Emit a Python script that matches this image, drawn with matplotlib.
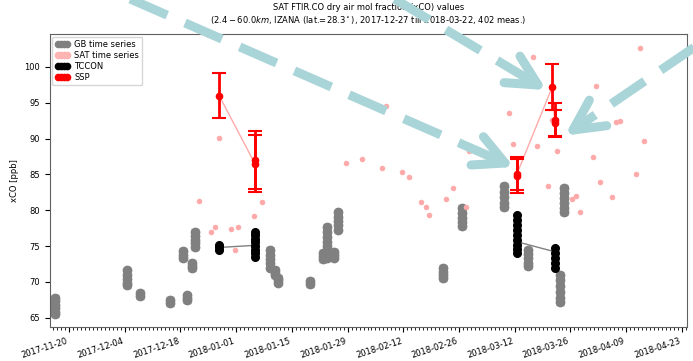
import numpy as np
import pandas as pd
import matplotlib
matplotlib.use("Agg")
import matplotlib.pyplot as plt
import matplotlib.dates as mdates
from matplotlib.lines import Line2D

plt.rcParams['font.family'] = ['DejaVu Sans']
plt.rcParams['font.size'] = 6
plt.rcParams['lines.scale_dashes'] = False

# GB time series (one date per cluster, several measurements each)
gb_dates = ["2017-11-16 12:00", "2017-12-04 14:00", "2017-12-07 19:00", "2017-12-15 10:00",
            "2017-12-18 14:00", "2017-12-19 14:00", "2017-12-20 22:00", "2017-12-21 17:00",
            "2018-01-09 12:00", "2018-01-10 19:00", "2018-01-11 12:00", "2018-01-19 14:00",
            "2018-01-22 19:00", "2018-01-23 19:00", "2018-01-25 12:00", "2018-01-26 14:00",
            "2018-02-22 00:00", "2018-02-26 17:00", "2018-03-09 07:00", "2018-03-15 07:00",
            "2018-03-23 10:00", "2018-03-24 10:00"]
gb_values = [[67.8, 67.3, 66.8, 66.3, 65.8, 65.5],
             [71.6, 71.0, 70.4, 69.9, 69.5],
             [68.4, 68.0],
             [67.5, 67.1],
             [74.3, 73.8, 73.3],
             [68.1, 67.7, 67.4],
             [72.6, 72.2, 71.9],
             [77.0, 76.4, 75.9, 75.4, 74.9],
             [74.5, 73.8, 73.2, 72.6, 72.0],
             [71.7, 71.3, 70.9],
             [70.6, 70.3, 69.9],
             [70.1, 69.7],
             [74.0, 73.6, 73.2],
             [77.7, 77.0, 76.3, 75.6, 75.0, 74.3, 73.8, 73.3],
             [74.2, 73.8, 73.4],
             [79.7, 79.1, 78.5, 77.9, 77.3],
             [71.9, 71.4, 70.9, 70.5],
             [80.3, 79.6, 78.9, 78.3, 77.8],
             [83.4, 82.6, 81.8, 81.0, 80.4],
             [74.5, 73.9, 73.3, 72.7, 72.2],
             [71.0, 70.2, 69.4, 68.6, 67.8, 67.2],
             [83.1, 82.4, 81.7, 81.0, 80.3, 79.8]]
gb_err = 0.4

# SAT time series
sat_dates = ["2017-12-22 17:00", "2017-12-25 17:00", "2017-12-26 17:00", "2017-12-27 17:00",
             "2017-12-30 17:00", "2017-12-31 17:00", "2018-01-01 12:00", "2018-01-05 12:00",
             "2018-01-07 12:00", "2018-01-28 14:00", "2018-02-01 14:00", "2018-02-06 14:00",
             "2018-02-07 14:00", "2018-02-11 17:00", "2018-02-13 10:00", "2018-02-16 10:00",
             "2018-02-17 17:00", "2018-02-18 12:00", "2018-02-22 17:00", "2018-02-24 12:00",
             "2018-02-27 17:00", "2018-02-28 12:00", "2018-03-10 14:00", "2018-03-11 14:00",
             "2018-03-16 14:00", "2018-03-17 14:00", "2018-03-20 10:00", "2018-03-21 10:00",
             "2018-03-22 14:00", "2018-03-26 10:00", "2018-03-27 10:00", "2018-03-28 10:00",
             "2018-03-31 17:00", "2018-04-01 10:00", "2018-04-02 10:00", "2018-04-05 10:00",
             "2018-04-06 10:00", "2018-04-07 10:00", "2018-04-11 12:00", "2018-04-12 12:00",
             "2018-04-13 12:00"]
sat_values = [81.3, 77.0, 77.6, 90.1, 77.4, 74.4, 77.7, 79.2, 81.2, 86.6, 87.2, 85.9,
              94.6, 85.4, 84.7, 81.2, 80.4, 79.4, 81.6, 83.1, 80.5, 88.2, 93.6, 89.3,
              101.4, 88.9, 83.4, 92.6, 88.2, 81.6, 82.0, 79.7, 87.5, 97.4, 84.0, 81.9,
              92.3, 92.5, 85.1, 102.6, 89.6]

# TCCON
tccon_dates = ["2017-12-27 17:00", "2018-01-05 17:00", "2018-03-12 14:00", "2018-03-22 02:00"]
tccon_values = [[75.1, 74.8, 74.5],
                [77.0, 76.5, 76.0, 75.5, 75.0, 74.5, 74.0, 73.5],
                [79.3, 78.7, 78.0, 77.3, 76.6, 75.9, 75.2, 74.6, 74.0],
                [74.7, 74.0, 73.3, 72.6, 71.9]]
tccon_line = [[74.8, 75.1], [75.6, 74.2]]

# SSP
ssp_dates = ["2017-12-27 17:00", "2018-01-05 17:00", "2018-01-05 17:00",
             "2018-03-12 14:00", "2018-03-12 14:00", "2018-03-21 10:00",
             "2018-03-22 02:00", "2018-03-22 02:00"]
ssp_values = [96.0, 87.0, 86.5, 85.1, 84.8, 97.2, 92.6, 92.2]
ssp_err = [3.1, 4.0, 4.0, 2.3, 2.4, 3.2, 2.4, 1.8]
ssp_segments = [[0, 2], [3, 5, 7]]

tick_dates = ["2017-11-20", "2017-12-04", "2017-12-18", "2018-01-01", "2018-01-15",
              "2018-01-29", "2018-02-12", "2018-02-26", "2018-03-12", "2018-03-26",
              "2018-04-09", "2018-04-23"]

W, H = 693, 361
fig = plt.figure(figsize=(W / 100, H / 100), dpi=100)
ax = fig.add_axes([50 / W, 34 / H, 637 / W, 293 / H])

gb_x = [pd.Timestamp(d) for d, vals in zip(gb_dates, gb_values) for v in vals]
gb_y = [v for vals in gb_values for v in vals]
ax.errorbar(gb_x, gb_y, yerr=gb_err, fmt='o', color='gray', ecolor='#a8a8a8',
            ms=6, elinewidth=1, capsize=3, zorder=2)

ax.plot(pd.to_datetime(sat_dates), sat_values, 'o', color='#ffaaaa', ms=4, mec='none', zorder=3)

tc_x = [pd.Timestamp(d) for d, vals in zip(tccon_dates, tccon_values) for v in vals]
tc_y = [v for vals in tccon_values for v in vals]
for i, seg in enumerate(tccon_line):
    ax.plot(pd.to_datetime(tccon_dates[2 * i:2 * i + 2]), seg, '-', color='gray', lw=1, zorder=3)
ax.plot(tc_x, tc_y, 'o', color='black', ms=5.5, zorder=4)

ssp_x = pd.to_datetime(ssp_dates)
for seg in ssp_segments:
    ax.plot(ssp_x[seg], [ssp_values[i] for i in seg], '-', color='#ffaaaa', lw=1, zorder=4)
ax.errorbar(ssp_x, ssp_values, yerr=ssp_err, fmt='o', color='red', ms=4.5,
            elinewidth=2, capsize=5, capthick=1.5, zorder=5)

ax.set_xlim(pd.Timestamp("2017-11-15 05:00"), pd.Timestamp("2018-04-24 07:00"))
ax.set_ylim(63.7, 104.6)
ax.set_yticks([65, 70, 75, 80, 85, 90, 95, 100])
ax.set_xticks(pd.to_datetime(tick_dates))
ax.xaxis.set_major_formatter(mdates.DateFormatter('%Y-%m-%d'))
ax.xaxis.set_minor_locator(mdates.DayLocator())
ax.tick_params(axis='x', which='minor', length=2)
for lbl in ax.get_xticklabels():
    lbl.set_rotation(18)
    lbl.set_ha('right')
for s in ax.spines.values():
    s.set_color('#606060')
ax.set_ylabel('xCO [ppb]')
ax.set_title("SAT FTIR.CO dry air mol fraction (xCO) values\n"
             "($2.4-60.0km$, IZANA (lat.=$28.3^\\circ$), 2017-12-27 till 2018-03-22, 402 meas.)",
             fontsize=6, pad=8)

handles = [Line2D([], [], ls='none', marker='o', color='gray', ms=4.5),
           Line2D([], [], ls='none', marker='o', color='#ffb3b3', ms=4.5),
           Line2D([], [], ls='none', marker='o', color='black', ms=4.5),
           Line2D([], [], ls='none', marker='o', color='red', ms=4.5)]
ax.legend(handles, ['GB time series', 'SAT time series', 'TCCON', 'SSP'],
          loc='upper left', numpoints=4, fontsize=6, handlelength=1.6,
          handletextpad=0.6, borderaxespad=0.3, labelspacing=0.25, borderpad=0.4)


# light blue dashed arrows drawn over the figure (pixel coords)
def fig_arrow(x0, y0, x1, y1, head=34, ang=27):
    col = '#a9d4d8'
    tr = fig.transFigure
    fx = lambda x: x / W
    fy = lambda y: 1 - y / H
    fig.add_artist(Line2D([fx(x0), fx(x1)], [fy(y0), fy(y1)], transform=tr, color=col,
                          lw=6.5, dashes=(29, 14), dash_capstyle='butt', zorder=10))
    d = np.array([x1 - x0, y1 - y0], float)
    d /= np.hypot(*d)
    for s in (1, -1):
        a = np.radians(s * ang)
        r = np.array([d[0] * np.cos(a) - d[1] * np.sin(a), d[0] * np.sin(a) + d[1] * np.cos(a)])
        ex, ey = x1 - head * r[0], y1 - head * r[1]
        fig.add_artist(Line2D([fx(ex), fx(x1)], [fy(ey), fy(y1)], transform=tr, color=col,
                              lw=6.5, solid_capstyle='round', zorder=10))


fig_arrow(128, -2, 505, 163)
fig_arrow(393, -2, 538, 85)
fig_arrow(705, 40, 573, 130)

fig.savefig('out.png', dpi=100)
